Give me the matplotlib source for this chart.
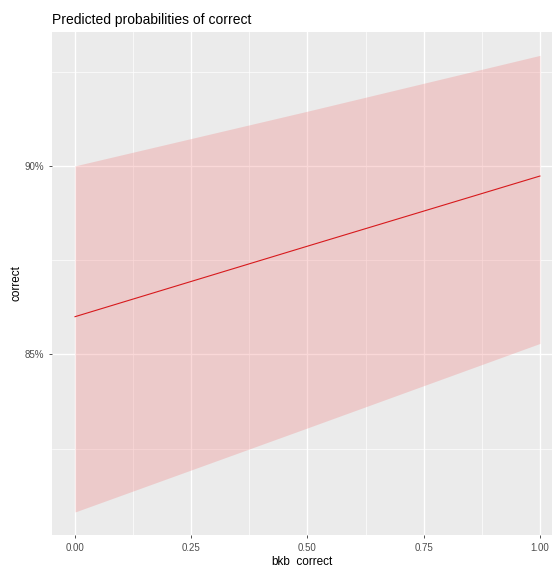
import matplotlib.pyplot as plt
import numpy as np

# values (percent)
bkb_correct = [0.0, 0.5, 1.0]
predicted = [86.0, 87.87, 89.73]
ci_low = [80.82, 83.05, 85.29]
ci_high = [90.0, 91.45, 92.93]

x_ticks = [0.0, 0.25, 0.5, 0.75, 1.0]
x_tick_labels = ["0.00", "0.25", "0.50", "0.75", "1.00"]
y_ticks = [85, 90]
y_tick_labels = ["85%", "90%"]

plt.rcParams['font.family'] = ['Liberation Sans', 'DejaVu Sans']

fig = plt.figure(figsize=(5.52, 5.66), dpi=100)
ax = fig.add_axes([52 / 552, 31 / 566, 1 - 52 / 552, 503 / 566])
ax.set_facecolor('#EBEBEB')

# grid lines, ggplot style
for v in [0.125, 0.375, 0.625, 0.875]:
    ax.axvline(v, color='white', lw=0.5, zorder=0.5)
for v in x_ticks:
    ax.axvline(v, color='white', lw=1.0, zorder=0.5)
for v in [82.5, 87.5, 92.5]:
    ax.axhline(v, color='white', lw=0.5, zorder=0.5)
for v in y_ticks:
    ax.axhline(v, color='white', lw=1.0, zorder=0.5)

ax.fill_between(bkb_correct, ci_low, ci_high, color='#F08080', alpha=0.3, lw=0, zorder=1)
ax.plot(bkb_correct, predicted, color='#D7191C', lw=0.8, zorder=2)

ax.set_xlim(-0.0495, 1.026)
ax.set_ylim(80.21, 93.55)
ax.set_xticks(x_ticks)
ax.set_xticklabels(x_tick_labels)
ax.set_yticks(y_ticks)
ax.set_yticklabels(y_tick_labels)
ax.tick_params(colors='#333333', labelcolor='#4D4D4D', labelsize=7, length=2.5, width=0.6)
for s in ax.spines.values():
    s.set_visible(False)

ax.set_xlabel("bkb_correct", fontsize=8.5, labelpad=1)
ax.set_ylabel("correct", fontsize=8.5, labelpad=1)
fig.text(52 / 552, 1 - 20 / 566, "Predicted probabilities of correct", fontsize=10, va='center', ha='left')

fig.savefig('out.png', dpi=100)
